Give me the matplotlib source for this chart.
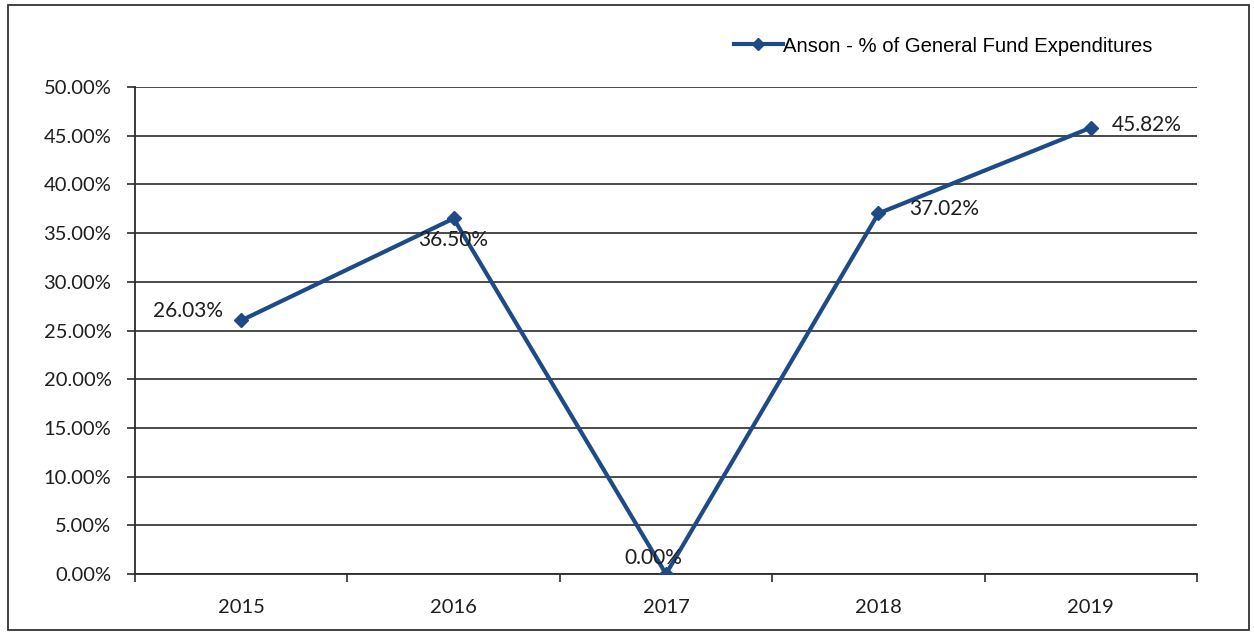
import matplotlib
matplotlib.use("Agg")
import matplotlib.pyplot as plt
from matplotlib.patches import Rectangle
from matplotlib.lines import Line2D

years = ["2015", "2016", "2017", "2018", "2019"]
pct_values = [26.03, 36.50, 0.00, 37.02, 45.82]
y_ticks = [0, 5, 10, 15, 20, 25, 30, 35, 40, 45, 50]
series_name = "Anson - % of General Fund Expenditures"

line_color = "#1f4a88"
grid_color = "#2b2b2b"
text_color = "#1e1e1e"
label_font = "Lato"

fig = plt.figure(figsize=(12.54, 6.34), dpi=100)
fig.patch.set_facecolor("white")

# outer chart frame
fig.add_artist(Rectangle((8 / 1254, 4 / 634), 1241 / 1254, 625 / 634,
                         transform=fig.transFigure, fill=False,
                         edgecolor="#333333", linewidth=1.3))

ax = fig.add_axes([135 / 1254, 1 - 574 / 634, 1062 / 1254, 487 / 634])
x = list(range(len(years)))
ax.plot(x, pct_values, color=line_color, linewidth=3.0, marker="D",
        markersize=7, markerfacecolor=line_color, markeredgecolor=line_color,
        zorder=3)

ax.set_xlim(-0.5, len(years) - 0.5)
ax.set_ylim(0, 50)
ax.set_yticks(y_ticks)
ax.set_yticklabels([f"{v:.2f}%" for v in y_ticks], fontfamily=label_font,
                   fontsize=14.5, color=text_color)
ax.set_xticks(x)
ax.set_xticklabels(years, fontfamily=label_font, fontsize=14.5, color=text_color)
ax.tick_params(axis="x", length=0, pad=18)
ax.tick_params(axis="y", length=6, width=1.2, color=grid_color, pad=11)

# category boundary ticks below the x axis
ax.set_xticks([i - 0.5 for i in range(len(years) + 1)], minor=True)
ax.tick_params(axis="x", which="minor", length=6, width=1.2, color=grid_color,
               direction="out")

ax.grid(axis="y", color=grid_color, linewidth=1.2)
ax.set_axisbelow(True)
for side in ["top", "right"]:
    ax.spines[side].set_visible(False)
ax.spines["left"].set_color(grid_color)
ax.spines["left"].set_linewidth(1.3)
ax.spines["bottom"].set_color(grid_color)
ax.spines["bottom"].set_linewidth(1.3)

# data labels
offsets = [(-38, 7), (0, -15.5), (-9, 11.5), (47, 3), (40, 2)]
for xi, v, (dx, dy) in zip(x, pct_values, offsets):
    ax.annotate(f"{v:.2f}%", (xi, v), xytext=(dx, dy), textcoords="offset points",
                ha="center", va="center", fontfamily=label_font, fontsize=15,
                color=text_color, zorder=4)

handle = Line2D([], [], color=line_color, linewidth=3.0, marker="D",
                markersize=6, markerfacecolor=line_color)
fig.legend([handle], [series_name], loc="center left",
           bbox_to_anchor=(726 / 1254, 1 - 46 / 634), frameon=False,
           prop={"family": "Liberation Sans", "size": 14.6},
           handlelength=2.4, handletextpad=0.0, borderaxespad=0)

fig.savefig("out.png", dpi=100)
